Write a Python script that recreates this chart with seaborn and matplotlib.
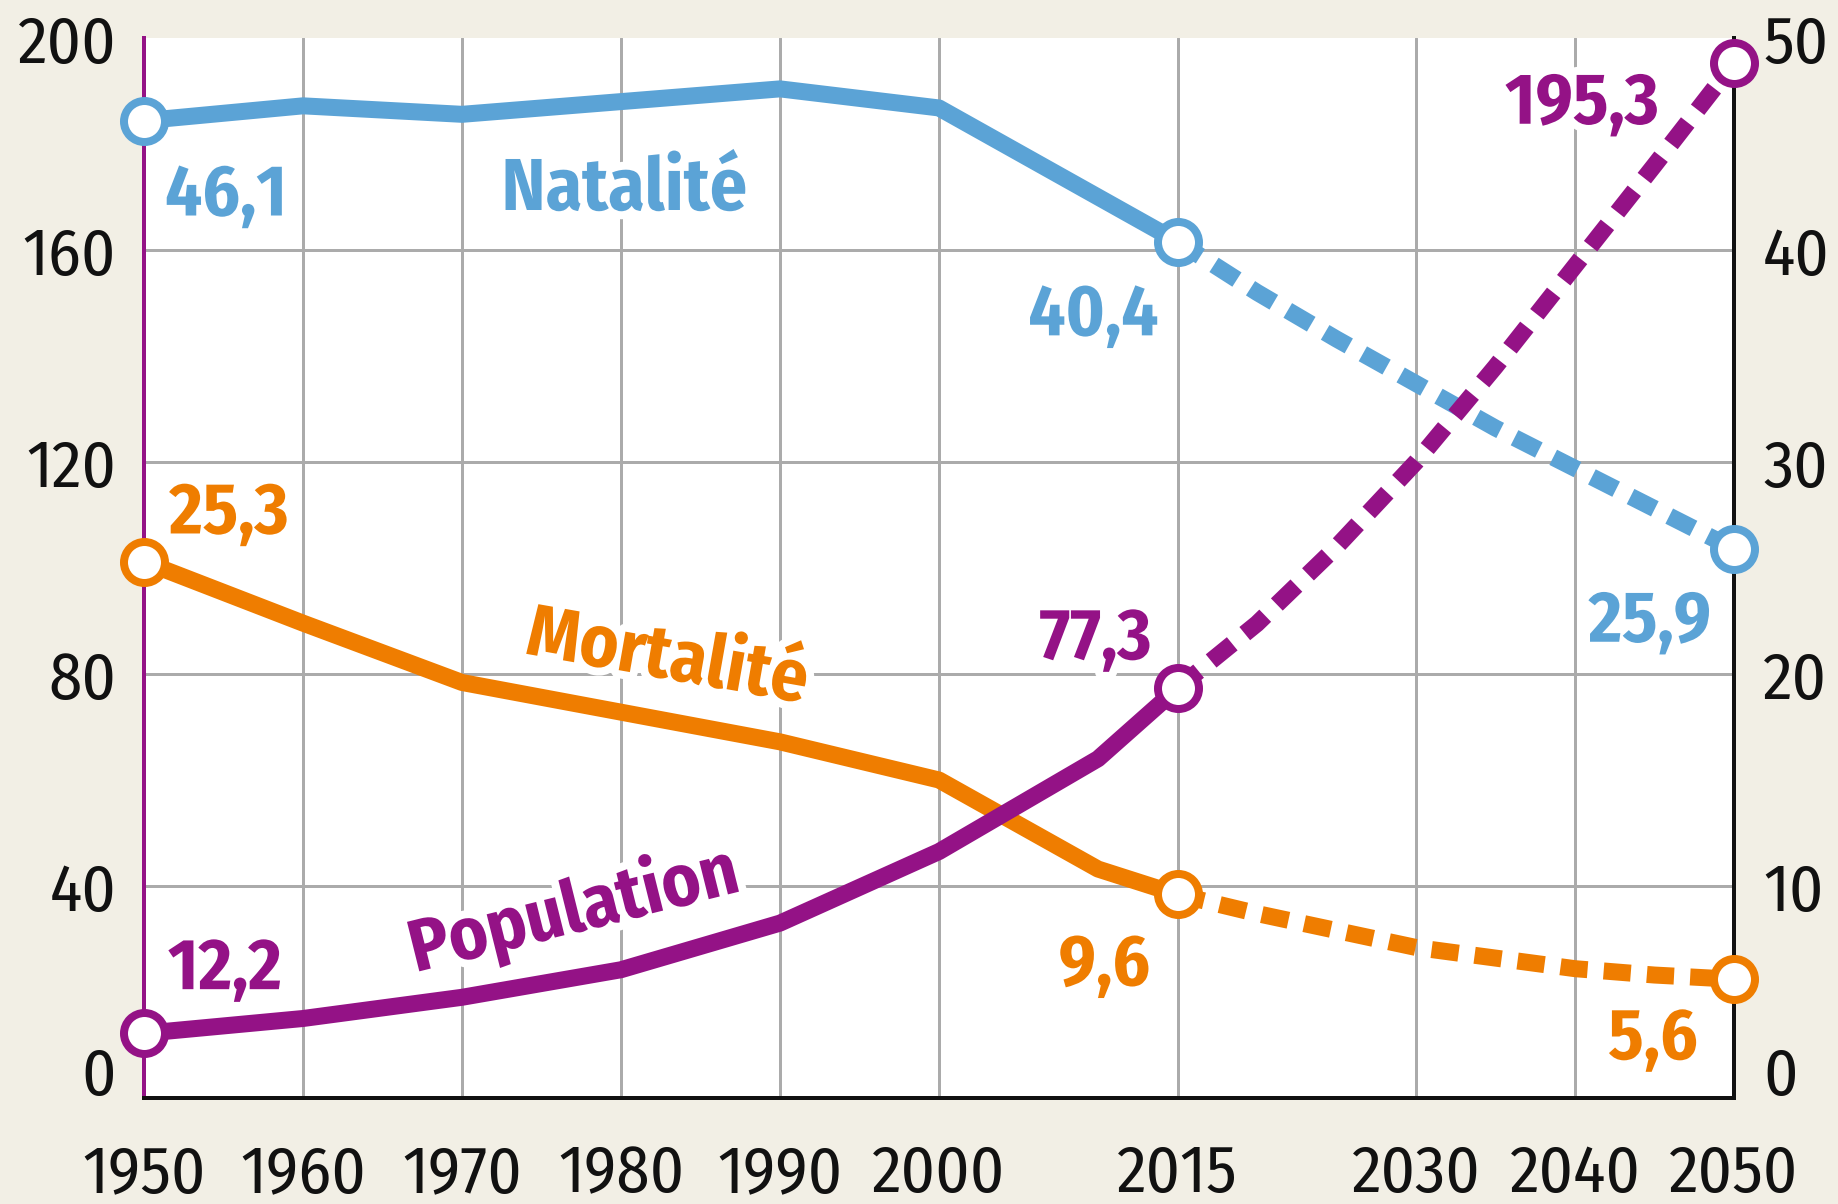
import matplotlib
matplotlib.use("Agg")
import matplotlib.pyplot as plt
import matplotlib.patheffects as pe
import matplotlib.transforms as mtransforms
import pandas as pd
import seaborn as sns

# ---------------- data ----------------
years_hist = [1950, 1960, 1970, 1980, 1990, 2000, 2010, 2015]
years_proj = [2015, 2020, 2025, 2030, 2035, 2040, 2045, 2050]

population_hist = [12.2, 15.0, 19.0, 24.2, 33.0, 46.5, 64.0, 77.3]
population_proj = [77.3, 89.5, 104.0, 120.0, 138.0, 157.0, 176.0, 195.3]

natalite_hist = [46.1, 46.8, 46.4, 47.0, 47.6, 46.7, 42.5, 40.4]
natalite_proj = [40.4, 38.0, 35.8, 33.7, 31.6, 29.7, 27.8, 25.9]

mortalite_hist = [25.3, 22.4, 19.6, 18.2, 16.8, 15.0, 10.8, 9.6]
mortalite_proj = [9.6, 8.7, 7.9, 7.1, 6.6, 6.1, 5.8, 5.6]

series_names = ["Natalité", "Mortalité", "Population"]

x_ticks = [1950, 1960, 1970, 1980, 1990, 2000, 2015, 2030, 2040, 2050]
pop_ticks = [0, 40, 80, 120, 160, 200]
rate_ticks = [0, 10, 20, 30, 40, 50]

# ---------------- style ----------------
BG = "#F2EFE5"
BLUE = "#5BA3D6"
ORANGE = "#EF7D00"
PURPLE = "#941286"
GRID = "#ABABAB"
PX = 72 / 100.0  # points per pixel at dpi 100

sns.set_theme(style="white")
FONT = ["Fira Sans Condensed", "Liberation Sans", "DejaVu Sans"]
plt.rcParams["font.family"] = FONT

W_PX, H_PX = 1838, 1204
fig = plt.figure(figsize=(W_PX / 100, H_PX / 100), dpi=100)
fig.patch.set_facecolor(BG)
ax = fig.add_axes([144 / W_PX, 1 - 1098 / H_PX, (1734 - 144) / W_PX, (1098 - 38) / H_PX])
ax.set_facecolor("white")
ax2 = ax.twinx()
ax.yaxis.tick_right()
ax2.yaxis.tick_left()

LW = 17 * PX
LWD = 17 * PX
MS = 41 * PX
MEW = 8 * PX


def draw(axis, yh, yp, color, z):
    df_h = pd.DataFrame({"year": years_hist, "value": yh})
    df_p = pd.DataFrame({"year": years_proj, "value": yp})
    sns.lineplot(data=df_h, x="year", y="value", ax=axis, color=color,
                 linewidth=LW, solid_capstyle="round", solid_joinstyle="round",
                 zorder=z)
    sns.lineplot(data=df_p, x="year", y="value", ax=axis, color=color,
                 linewidth=LWD, linestyle=(0, (1.6, 0.95)), dash_capstyle="butt",
                 zorder=z)
    ends = pd.DataFrame({"year": [years_hist[0], years_hist[-1], years_proj[-1]],
                         "value": [yh[0], yh[-1], yp[-1]]})
    sns.scatterplot(data=ends, x="year", y="value", ax=axis, s=MS ** 2,
                    facecolor="white", edgecolor=color, linewidth=MEW,
                    zorder=z + 3, clip_on=False)


draw(ax, natalite_hist, natalite_proj, BLUE, 3)
draw(ax, mortalite_hist, mortalite_proj, ORANGE, 3)
draw(ax2, population_hist, population_proj, PURPLE, 3)

ax.set_xlim(1950, 2050)
ax.set_ylim(0, 50)
ax2.set_ylim(0, 200)
ax.set_xticks(x_ticks)
ax.set_xticklabels([str(x) for x in x_ticks])
ax.set_yticks(rate_ticks)
ax.set_yticklabels([str(v) for v in rate_ticks])
ax2.set_yticks(pop_ticks)
ax2.set_yticklabels([str(v) for v in pop_ticks])
for a in (ax, ax2):
    a.set_xlabel("")
    a.set_ylabel("")
    leg = a.get_legend()
    if leg:
        leg.remove()

TICK_FS = 48
ax.tick_params(axis="x", length=0, pad=32, labelsize=TICK_FS, labelcolor="#111111")
ax.tick_params(axis="y", length=0, pad=21, labelsize=TICK_FS, labelcolor="#111111")
ax2.tick_params(axis="y", length=0, pad=20, labelsize=TICK_FS, labelcolor="#111111")

ax.grid(True, color=GRID, linewidth=3 * PX)
ax.set_axisbelow(True)
ax.yaxis.get_major_ticks()[-1].gridline.set_visible(False)

for s in ax2.spines.values():
    s.set_visible(False)
ax.spines["top"].set_visible(False)
ax.spines["left"].set_color(PURPLE)
ax.spines["left"].set_linewidth(4 * PX)
for k in ("right", "bottom"):
    ax.spines[k].set_color("#111111")
    ax.spines[k].set_linewidth(4 * PX)

# lift the "0" tick labels slightly as in the reference
shift = mtransforms.ScaledTranslation(0, 28 / 100, fig.dpi_scale_trans)
for axis_obj in (ax.yaxis, ax2.yaxis):
    t = axis_obj.get_major_ticks()[0]
    for lab in (t.label1, t.label2):
        lab.set_transform(lab.get_transform() + shift)

halo = [pe.withStroke(linewidth=16 * PX, foreground="white")]


def fmt(v):
    return f"{v:.1f}".replace(".", ",")


# value labels: (transform, x, y, color, offset in px (dx, dy up))
value_labels = [
    (ax.transData, years_hist[0], natalite_hist[0], BLUE, (82, -67)),
    (ax.transData, years_hist[-1], natalite_hist[-1], BLUE, (-84, -66)),
    (ax.transData, years_proj[-1], natalite_proj[-1], BLUE, (-84, -65)),
    (ax.transData, years_hist[0], mortalite_hist[0], ORANGE, (85, 56)),
    (ax.transData, years_hist[-1], mortalite_hist[-1], ORANGE, (-73, -63)),
    (ax.transData, years_proj[-1], mortalite_proj[-1], ORANGE, (-81, -52)),
    (ax2.transData, years_hist[0], population_hist[0], PURPLE, (81, 72)),
    (ax2.transData, years_hist[-1], population_hist[-1], PURPLE, (-82, 57)),
    (ax2.transData, years_proj[-1], population_proj[-1], PURPLE, (-152, -33)),
]
for tr, x, y, c, (dx, dy) in value_labels:
    ax.annotate(fmt(y), xy=(x, y), xycoords=tr, xytext=(dx * PX, dy * PX),
                textcoords="offset points", ha="center", va="center_baseline",
                color=c, fontsize=52, fontweight="bold", family=FONT,
                path_effects=halo, zorder=1.5, annotation_clip=False)

# series names
LAB_FS = 53
ax.text(1980.2, 43.2, series_names[0], color=BLUE, fontsize=LAB_FS, fontweight="bold",
        family=FONT, ha="center", va="center_baseline", path_effects=halo, zorder=1.5)
ax.text(1983.0, 21.1, series_names[1], color=ORANGE, fontsize=LAB_FS, fontweight="bold",
        family=FONT, ha="center", va="center_baseline", rotation=-10,
        rotation_mode="anchor", path_effects=halo, zorder=1.5)
ax.text(1976.9, 36.8, series_names[2], color=PURPLE, fontsize=LAB_FS, fontweight="bold",
        family=FONT, ha="center", va="center_baseline", rotation=14,
        rotation_mode="anchor", transform=ax2.transData, path_effects=halo, zorder=1.5)

fig.savefig("out.png", dpi=100, facecolor=BG)
